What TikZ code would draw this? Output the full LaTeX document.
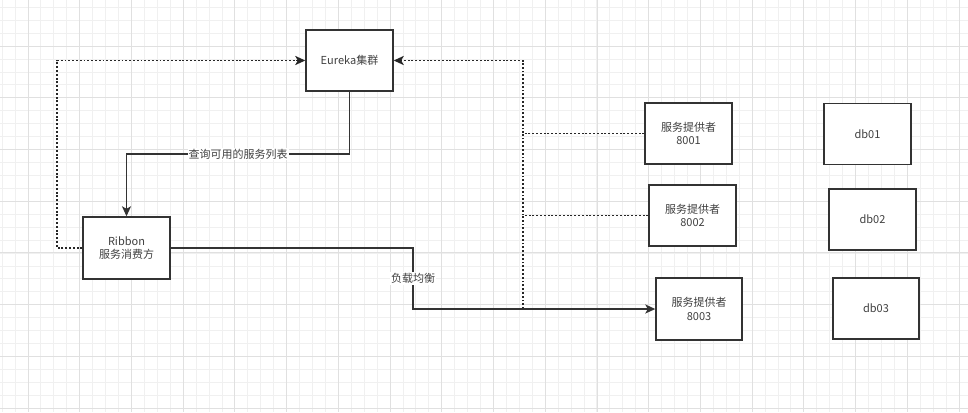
\documentclass[tikz,border=0pt]{standalone}
\usepackage{fontspec}
\setmainfont{Noto Sans CJK SC}
\usetikzlibrary{arrows.meta}
\begin{document}
\begin{tikzpicture}[x=1pt,y=-1pt,
  box/.style={draw=black!80, line width=1.4pt, fill=white, text=black!75,
    font=\fontsize{11}{13.5}\selectfont, align=center, inner sep=0pt,
    minimum width=87pt, minimum height=61pt},
  solidln/.style={draw=black!80, line width=1.4pt},
  dotln/.style={draw=black!85, line width=1.9pt, dash pattern=on 1.9pt off 1.9pt},
  arr/.style={-{Stealth[length=10pt,width=9pt,inset=2.5pt]}},
  lbl/.style={fill=white, text=black!75, font=\fontsize{11}{13}\selectfont, inner sep=1pt},
  gridminor/.style={draw=black!6, line width=0.8pt},
  gridmajor/.style={draw=black!12, line width=0.8pt}]
\useasboundingbox (0,0) rectangle (968,412);
\fill[white] (0,0) rectangle (968,412);
% grid
\foreach \i in {0,...,75} { \draw[gridminor] ({2.1+12.93*\i},0) -- ({2.1+12.93*\i},412); }
\foreach \i in {0,...,32} { \draw[gridminor] (0,{7.3+12.93*\i}) -- (968,{7.3+12.93*\i}); }
\foreach \i in {0,...,18} { \draw[gridmajor] ({28+51.72*\i},0) -- ({28+51.72*\i},412); }
\foreach \i in {-1,...,7} { \draw[gridmajor] (0,{46+51.72*\i}) -- (968,{46+51.72*\i}); }

% nodes
\node[box] (eureka) at (349.5,60.5) {Eureka集群};
\node[box, minimum height=62pt] (ribbon) at (126.5,248) {Ribbon\\服务消费方};
\node[box] (p1) at (688.5,133.5) {服务提供者\\8001};
\node[box] (p2) at (692.5,215.5) {服务提供者\\8002};
\node[box, minimum width=86pt, minimum height=62pt] (p3) at (699,309) {服务提供者\\8003};
\node[box] (db1) at (867.5,134) {db01};
\node[box] (db2) at (872.5,219.5) {db02};
\node[box, minimum width=86pt] (db3) at (876,308.5) {db03};

% coordinates
\coordinate (q1) at (349.5,154);
\coordinate (q2) at (126.5,154);
\coordinate (d1) at (57,248);
\coordinate (d2) at (57,60.5);
\coordinate (b0) at (523,60.5);
\coordinate (b1) at (523,133.5);
\coordinate (b2) at (523,215.5);
\coordinate (b3) at (523,309);
\coordinate (l1) at (413,248);
\coordinate (l2) at (413,309);

% dotted registrations
\draw[dotln,arr] (ribbon.west) -- (d1) -- (d2) -- (eureka.west);
\draw[dotln,arr] (p1.west) -- (b1) -- (b0) -- (eureka.east);
\draw[dotln] (p2.west) -- (b2) -- (b1);
\draw[dotln] (b3) -- (b2);

% solid connectors
\draw[solidln,arr] (eureka.south) -- (q1) -- node[lbl]{查询可用的服务列表} (q2) -- (ribbon.north);
\draw[solidln,arr] (ribbon.east) -- (l1) -- node[lbl]{负载均衡} (l2) -- (p3.west);
\end{tikzpicture}
\end{document}
